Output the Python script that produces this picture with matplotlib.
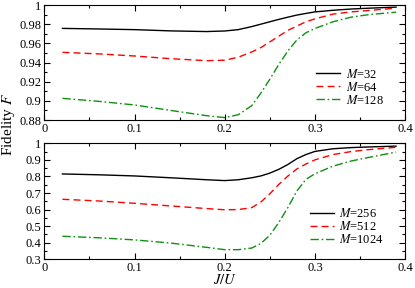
import matplotlib
matplotlib.use("Agg")
import matplotlib.pyplot as plt
from matplotlib.ticker import MultipleLocator, FuncFormatter

J = [0.02, 0.06, 0.1, 0.14, 0.18, 0.2, 0.215, 0.23, 0.24, 0.25, 0.26,
     0.27, 0.28, 0.29, 0.30, 0.32, 0.34, 0.36, 0.39]

# top panel
F32 = [0.9756, 0.975, 0.9743, 0.973, 0.9723, 0.9729, 0.9743, 0.9775, 0.980,
       0.9825, 0.985, 0.9873, 0.9895, 0.9912, 0.9928, 0.9945, 0.9958, 0.9967, 0.9978]
F64 = [0.9506, 0.949, 0.9468, 0.944, 0.9419, 0.9424, 0.9455, 0.951, 0.9555,
       0.9615, 0.9675, 0.9735, 0.978, 0.9825, 0.9855, 0.9905, 0.9928, 0.9943, 0.9967]
F128 = [0.9026, 0.8995, 0.8957, 0.890, 0.8845, 0.8825, 0.8855, 0.895, 0.908,
        0.9225, 0.938, 0.952, 0.9635, 0.971, 0.9755, 0.9825, 0.9873, 0.990, 0.9925]

# bottom panel
F256 = [0.815, 0.810, 0.803, 0.792, 0.780, 0.775, 0.780, 0.792, 0.803, 0.820,
        0.843, 0.872, 0.907, 0.932, 0.951, 0.967, 0.974, 0.978, 0.983]
F512 = [0.662, 0.652, 0.638, 0.622, 0.606, 0.599, 0.600, 0.612, 0.645, 0.695,
        0.752, 0.802, 0.845, 0.875, 0.900, 0.932, 0.950, 0.962, 0.976]
F1024 = [0.439, 0.430, 0.417, 0.398, 0.372, 0.358, 0.358, 0.368, 0.395, 0.445,
         0.522, 0.612, 0.712, 0.782, 0.816, 0.862, 0.893, 0.915, 0.947]

top_labels = ["$M$=32", "$M$=64", "$M$=128"]
bot_labels = ["$M$=256", "$M$=512", "$M$=1024"]

plt.rcParams['font.family'] = ['Liberation Serif', 'DejaVu Serif']
plt.rcParams['mathtext.fontset'] = 'stix'
plt.rcParams['font.size'] = 9

fig = plt.figure(figsize=(4.15, 2.88), dpi=100)
ax1 = fig.add_axes([0.107, 0.5833, 0.869, 0.3993])
ax2 = fig.add_axes([0.107, 0.0997, 0.869, 0.4027])

styles = [dict(color='black', ls='-'),
          dict(color='red', ls=(0, (5, 3))),
          dict(color='#109010', ls=(0, (6, 2, 1.2, 2)))]

fmt = FuncFormatter(lambda v, p: "%g" % round(v, 4))

for ax, series, labels in [(ax1, [F32, F64, F128], top_labels),
                           (ax2, [F256, F512, F1024], bot_labels)]:
    for ys, st, lab in zip(series, styles, labels):
        ax.plot(J, ys, lw=1.0, label=lab, **st)
    ax.set_xlim(0, 0.4)
    ax.xaxis.set_major_locator(MultipleLocator(0.1))
    ax.xaxis.set_minor_locator(MultipleLocator(0.05))
    ax.xaxis.set_major_formatter(fmt)
    ax.yaxis.set_major_formatter(fmt)
    ax.tick_params(which='both', direction='in', top=True, right=True,
                   labelsize=9, pad=2)
    ax.tick_params(which='major', length=4, width=0.8)
    ax.tick_params(which='minor', length=2.5, width=0.8)
    for s in ax.spines.values():
        s.set_linewidth(0.8)
    ax.legend(loc='lower right', bbox_to_anchor=(0.965, 0.04), frameon=False,
              fontsize=9, handlelength=1.9, handletextpad=0.45,
              labelspacing=0.0, borderpad=0.2)

ax1.set_ylim(0.88, 1.0)
ax1.yaxis.set_major_locator(MultipleLocator(0.02))
ax1.yaxis.set_minor_locator(MultipleLocator(0.01))

ax2.set_ylim(0.3, 1.0)
ax2.yaxis.set_major_locator(MultipleLocator(0.1))
ax2.yaxis.set_minor_locator(MultipleLocator(0.05))
ax2.set_xlabel("$J/U$", fontsize=10.5, va='center')
ax2.xaxis.set_label_coords(0.5, -0.18)

fig.text(0.02, 1 - 124 / 288, "Fidelity $F$", rotation=90, ha='center',
         va='center', fontsize=11)

fig.savefig("out.png", dpi=100)
